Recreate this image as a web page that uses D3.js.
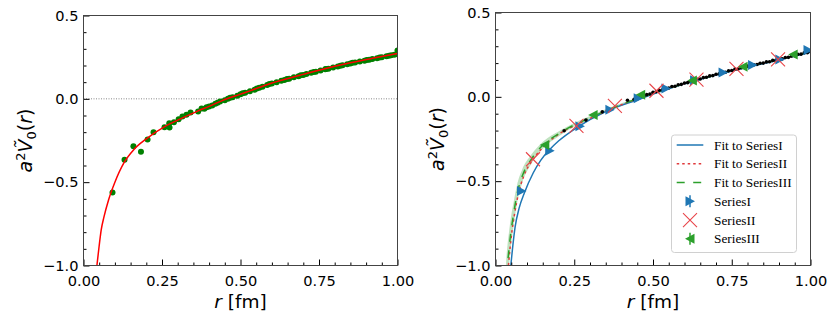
<!DOCTYPE html>
<html>
<head>
<meta charset="utf-8">
<script src="https://cdn.jsdelivr.net/npm/d3@7"></script>
<style>
  body { margin: 0; background: #fff; }
  svg { display: block; }
  text { font-family: "DejaVu Sans", sans-serif; }
</style>
</head>
<body>
<svg width="830" height="313"></svg>
<script>
// ---- data ----
var xTicks = [0, 0.25, 0.5, 0.75, 1.0];
var yTicks = [-1.0, -0.5, 0.0, 0.5];

// left panel: lattice points and their fit
var leftFitR = [0.0427, 0.05, 0.0564, 0.065, 0.08, 0.10, 0.13, 0.16, 0.20, 0.26, 0.30, 0.365, 0.40, 0.44, 0.50, 0.53, 0.60, 0.69, 0.75, 0.85, 0.92, 1.00];
var leftFitV = [-1.00, -0.88, -0.786, -0.71, -0.605, -0.50, -0.38, -0.305, -0.240, -0.165, -0.128, -0.072, -0.045, -0.012, 0.028, 0.048, 0.095, 0.142, 0.172, 0.216, 0.243, 0.272];

var leftDotsR = [0.0924, 0.1306, 0.159, 0.183, 0.204, 0.223, 0.258, 0.273, 0.274, 0.288, 0.303, 0.315, 0.328, 0.341, 0.365, 0.376,
  0.385, 0.392, 0.40, 0.41, 0.42, 0.427, 0.435, 0.45, 0.46, 0.467, 0.475, 0.49, 0.50, 0.507, 0.515, 0.53, 0.545, 0.552, 0.56, 0.57,
  0.585, 0.592, 0.60, 0.615, 0.63, 0.64, 0.648, 0.655, 0.67, 0.685, 0.692, 0.70, 0.71, 0.725, 0.733, 0.74, 0.755, 0.77, 0.772, 0.78,
  0.795, 0.81, 0.818, 0.825, 0.84, 0.85, 0.857, 0.865, 0.88, 0.895, 0.902, 0.91, 0.92, 0.935, 0.943, 0.95, 0.965, 0.973, 0.98, 0.99, 1.00, 1.00];
var leftDotsV = [-0.562, -0.366, -0.284, -0.318, -0.244, -0.200, -0.170, -0.146, -0.172, -0.140, -0.122, -0.106, -0.096, -0.082, -0.076, -0.058,
  -0.060, -0.050, -0.046, -0.040, -0.030, -0.024, -0.016, -0.008, 0.000, 0.006, 0.010, 0.019, 0.027, 0.033, 0.036, 0.046, 0.055, 0.062, 0.066, 0.072,
  0.083, 0.089, 0.092, 0.100, 0.108, 0.113, 0.119, 0.121, 0.129, 0.136, 0.142, 0.143, 0.149, 0.156, 0.161, 0.163, 0.170, 0.177, 0.179, 0.181,
  0.188, 0.194, 0.199, 0.201, 0.208, 0.212, 0.216, 0.218, 0.224, 0.229, 0.233, 0.235, 0.239, 0.244, 0.248, 0.250, 0.255, 0.259, 0.261, 0.264, 0.268, 0.290];

// right panel: three fits
var fitIR = [0.0486, 0.054, 0.0623, 0.075, 0.091, 0.12, 0.144, 0.17, 0.20, 0.26, 0.35, 0.456, 0.54, 0.64, 0.77, 0.90, 1.00];
var fitIV = [-1.00, -0.90, -0.771, -0.66, -0.573, -0.45, -0.375, -0.316, -0.262, -0.180, -0.087, -0.014, 0.042, 0.098, 0.162, 0.218, 0.264];

var fitIIR = [0.041, 0.046, 0.052, 0.06, 0.073, 0.09, 0.119, 0.15, 0.20, 0.255, 0.30, 0.38, 0.45, 0.51, 0.64, 0.77, 0.90, 1.00];
var fitIIV = [-1.00, -0.90, -0.80, -0.70, -0.573, -0.468, -0.372, -0.300, -0.222, -0.168, -0.128, -0.061, -0.012, 0.027, 0.100, 0.165, 0.220, 0.266];

var fitIIIR = [0.031, 0.034, 0.038, 0.043, 0.049, 0.057, 0.068, 0.085, 0.112, 0.154, 0.20, 0.233, 0.30, 0.38, 0.45, 0.51, 0.64, 0.77, 0.90, 1.00];
var fitIIIV = [-1.25, -1.12, -1.00, -0.90, -0.80, -0.70, -0.58, -0.47, -0.375, -0.280, -0.220, -0.183, -0.124, -0.060, -0.011, 0.027, 0.100, 0.165, 0.221, 0.267];
var bandHi = [-1.07, -0.97, -0.88, -0.80, -0.715, -0.63, -0.525, -0.43, -0.347, -0.260, -0.205, -0.171, -0.114, -0.052, -0.004, 0.033, 0.105, 0.170, 0.226, 0.272];
var bandLo = [-1.45, -1.27, -1.12, -1.00, -0.885, -0.77, -0.635, -0.51, -0.403, -0.300, -0.235, -0.195, -0.134, -0.068, -0.018, 0.021, 0.095, 0.160, 0.216, 0.262];

// right panel: data points
var blackR = [0.218, 0.287, 0.339, 0.419, 0.44, 0.46, 0.48, 0.50, 0.52, 0.54, 0.56, 0.58, 0.60, 0.62, 0.64, 0.66, 0.68, 0.70, 0.72,
  0.74, 0.76, 0.78, 0.80, 0.82, 0.84, 0.86, 0.88, 0.90, 0.92, 0.94, 0.96, 0.98, 1.00,
  0.45, 0.47, 0.49, 0.51, 0.53, 0.55, 0.57, 0.59, 0.61, 0.63, 0.65, 0.67, 0.69, 0.71, 0.73, 0.75, 0.77, 0.79, 0.81, 0.83, 0.85,
  0.87, 0.89, 0.91, 0.93, 0.95, 0.97, 0.99];
var blackV = [-0.201, -0.138, -0.089, -0.020, -0.015, -0.001, 0.013, 0.027, 0.039, 0.050, 0.061, 0.072, 0.082, 0.093, 0.104, 0.114, 0.124,
  0.134, 0.144, 0.154, 0.164, 0.173, 0.182, 0.190, 0.199, 0.207, 0.216, 0.224, 0.233, 0.242, 0.252, 0.261, 0.270,
  -0.011, 0.003, 0.017, 0.030, 0.041, 0.052, 0.063, 0.074, 0.084, 0.095, 0.106, 0.116, 0.126, 0.136, 0.146, 0.156, 0.165, 0.174,
  0.183, 0.192, 0.200, 0.208, 0.217, 0.225, 0.234, 0.244, 0.253, 0.262];

var seriesIR = [0.0825, 0.172, 0.268, 0.363, 0.453, 0.541, 0.632, 0.7225, 0.816, 0.9025, 0.992];
var seriesIV = [-0.559, -0.320, -0.174, -0.077, -0.008, 0.050, 0.099, 0.145, 0.188, 0.222, 0.277];
var seriesIIR = [0.119, 0.257, 0.379, 0.511, 0.638, 0.765, 0.897];
var seriesIIV = [-0.370, -0.172, -0.053, 0.036, 0.102, 0.166, 0.222];
var seriesIIIR = [0.1565, 0.31, 0.461, 0.625, 0.786, 0.945];
var seriesIIIV = [-0.286, -0.108, 0.012, 0.097, 0.178, 0.251];

var legendLabels = ["Fit to SeriesI", "Fit to SeriesII", "Fit to SeriesIII", "SeriesI", "SeriesII", "SeriesIII"];

// ---- drawing ----
var svg = d3.select("svg");
var cBlue = "#1f77b4", cRed = "#e03a3c", cGreen = "#2ca02c";

function pairs(rs, vs) {
    return rs.map(function (r, i) { return [r, vs[i]]; });
}

function makePanel(id, box) {
    var x = d3.scaleLinear().domain([0, 1]).range([box.left, box.right]);
    var y = d3.scaleLinear().domain([-1, 0.5]).range([box.bottom, box.top]);
    svg.append("clipPath").attr("id", id)
        .append("rect")
        .attr("x", box.left).attr("y", box.top)
        .attr("width", box.right - box.left).attr("height", box.bottom - box.top);
    var g = svg.append("g").attr("clip-path", "url(#" + id + ")");
    return {x: x, y: y, g: g, box: box};
}

function drawAxes(p) {
    var b = p.box;
    var xMinor = p.x.ticks(20).filter(function (d) { return Math.abs(d * 4 - Math.round(d * 4)) > 1e-6; });
    var yMinor = p.y.ticks(15).filter(function (d) { return Math.abs(d * 2 - Math.round(d * 2)) > 1e-6; });

    svg.append("g").attr("transform", "translate(0," + b.bottom + ")")
        .call(d3.axisBottom(p.x).tickValues(xMinor).tickSize(-3).tickSizeOuter(0).tickFormat(""))
        .select(".domain").remove();
    svg.append("g").attr("transform", "translate(" + b.left + ",0)")
        .call(d3.axisLeft(p.y).tickValues(yMinor).tickSize(-3).tickSizeOuter(0).tickFormat(""))
        .select(".domain").remove();

    var xa = svg.append("g").attr("transform", "translate(0," + b.bottom + ")")
        .call(d3.axisBottom(p.x).tickValues(xTicks).tickSize(-6).tickSizeOuter(0)
            .tickPadding(10.5).tickFormat(d3.format(".2f")));
    xa.select(".domain").remove();
    var ya = svg.append("g").attr("transform", "translate(" + b.left + ",0)")
        .call(d3.axisLeft(p.y).tickValues(yTicks).tickSize(-6).tickSizeOuter(0)
            .tickPadding(5).tickFormat(d3.format(".1f")));
    ya.select(".domain").remove();
    [xa, ya].forEach(function (a) {
        a.attr("font-family", null).attr("font-size", null);
        a.selectAll("text").style("font-size", "14.6px").attr("fill", "#000");
    });

    svg.append("rect")
        .attr("x", b.left).attr("y", b.top)
        .attr("width", b.right - b.left).attr("height", b.bottom - b.top)
        .attr("fill", "none").attr("stroke", "#444").attr("stroke-width", 1);

    // axis titles
    svg.append("text")
        .attr("x", (b.left + b.right) / 2).attr("y", 308)
        .attr("text-anchor", "middle").style("font-size", "18.5px")
        .html('<tspan font-style="italic">r</tspan> [fm]');

    var yt = svg.append("text")
        .attr("transform", "translate(" + (b.left - 52) + "," + ((b.top + b.bottom) / 2) + ") rotate(-90)")
        .attr("text-anchor", "middle").style("font-size", "19px");
    yt.append("tspan").attr("font-style", "italic").text("a");
    yt.append("tspan").attr("dy", -7).style("font-size", "13px").text("2");
    yt.append("tspan").attr("dy", 7).attr("font-style", "italic").text("\u1E7C");
    yt.append("tspan").attr("dy", 4).style("font-size", "13px").text("0");
    yt.append("tspan").attr("dy", -4).text("(");
    yt.append("tspan").attr("font-style", "italic").text("r");
    yt.append("tspan").text(")");
}

function drawLine(p, rs, vs, color, dash) {
    var line = d3.line()
        .x(function (d) { return p.x(d[0]); })
        .y(function (d) { return p.y(d[1]); })
        .curve(d3.curveMonotoneX);
    p.g.append("path")
        .datum(pairs(rs, vs))
        .attr("d", line)
        .attr("fill", "none")
        .attr("stroke", color)
        .attr("stroke-width", 1.5)
        .attr("stroke-dasharray", dash || null);
}

var triRight = "M-4.5,-5L5,0L-4.5,5Z";
var triLeft = "M4.5,-5L-5,0L4.5,5Z";

function drawTriangles(g, p, rs, vs, shape, color) {
    g.selectAll(null)
        .data(pairs(rs, vs))
        .enter().append("path")
        .attr("d", shape)
        .attr("transform", function (d) { return "translate(" + p.x(d[0]) + "," + p.y(d[1]) + ")"; })
        .attr("fill", color);
}

function crossPath(s) {
    return "M" + (-s) + "," + (-s) + "L" + s + "," + s + "M" + (-s) + "," + s + "L" + s + "," + (-s);
}

// left panel
var left = makePanel("clipL", {left: 83.5, right: 397.5, top: 15.5, bottom: 265.5});

left.g.append("line")
    .attr("x1", left.box.left).attr("x2", left.box.right)
    .attr("y1", left.y(0)).attr("y2", left.y(0))
    .attr("stroke", "#888").attr("stroke-width", 1)
    .attr("stroke-dasharray", "1,1.5");

left.g.selectAll(".dot")
    .data(pairs(leftDotsR, leftDotsV))
    .enter().append("circle")
    .attr("class", "dot")
    .attr("cx", function (d) { return left.x(d[0]); })
    .attr("cy", function (d) { return left.y(d[1]); })
    .attr("r", 3)
    .attr("fill", "#008000");

drawLine(left, leftFitR, leftFitV, "#ff0000");
drawAxes(left);

// right panel
var right = makePanel("clipR", {left: 495.5, right: 810.5, top: 12.5, bottom: 265.5});

var band = d3.area()
    .x(function (d) { return right.x(d.r); })
    .y0(function (d) { return right.y(d.lo); })
    .y1(function (d) { return right.y(d.hi); })
    .curve(d3.curveMonotoneX);
right.g.append("path")
    .datum(fitIIIR.map(function (r, i) { return {r: r, lo: bandLo[i], hi: bandHi[i]}; }))
    .attr("d", band)
    .attr("fill", cGreen)
    .attr("fill-opacity", 0.3);

drawLine(right, fitIR, fitIV, cBlue);
drawLine(right, fitIIR, fitIIV, cRed, "2.5,3");
drawLine(right, fitIIIR, fitIIIV, cGreen, "8,8.5");

right.g.selectAll(".bdot")
    .data(pairs(blackR, blackV))
    .enter().append("circle")
    .attr("class", "bdot")
    .attr("cx", function (d) { return right.x(d[0]); })
    .attr("cy", function (d) { return right.y(d[1]); })
    .attr("r", 1.8)
    .attr("fill", "#000");

drawTriangles(right.g, right, seriesIR, seriesIV, triRight, cBlue);

right.g.selectAll(".xm")
    .data(pairs(seriesIIR, seriesIIV))
    .enter().append("path")
    .attr("class", "xm")
    .attr("d", crossPath(7))
    .attr("transform", function (d) { return "translate(" + right.x(d[0]) + "," + right.y(d[1]) + ")"; })
    .attr("fill", "none")
    .attr("stroke", "#e8464a")
    .attr("stroke-width", 1.1);

drawTriangles(right.g, right, seriesIIIR, seriesIIIV, triLeft, cGreen);

drawAxes(right);

// legend
var lg = svg.append("g");
lg.append("rect")
    .attr("x", 671.5).attr("y", 135).attr("width", 125).attr("height", 117.5)
    .attr("rx", 3).attr("fill", "#fff").attr("fill-opacity", 0.8)
    .attr("stroke", "#d0d0d0").attr("stroke-width", 1);

var rowY = d3.scalePoint().domain(d3.range(legendLabels.length)).range([145, 238.8]);
var handleX0 = 676.7, handleX1 = 703.3, handleMid = 690;

var lineStyles = [[cBlue, null], [cRed, "2.5,3"], [cGreen, "8,8.5"]];
lineStyles.forEach(function (s, i) {
    lg.append("line")
        .attr("x1", handleX0).attr("x2", handleX1)
        .attr("y1", rowY(i)).attr("y2", rowY(i))
        .attr("stroke", s[0]).attr("stroke-width", 1.5)
        .attr("stroke-dasharray", s[1]);
});

[[3, triRight, cBlue], [5, triLeft, cGreen]].forEach(function (m) {
    lg.append("line")
        .attr("x1", handleMid).attr("x2", handleMid)
        .attr("y1", rowY(m[0]) - 6).attr("y2", rowY(m[0]) + 6)
        .attr("stroke", m[2]).attr("stroke-width", 1.5);
    lg.append("path")
        .attr("d", m[1])
        .attr("transform", "translate(" + handleMid + "," + rowY(m[0]) + ")")
        .attr("fill", m[2]);
});
lg.append("path")
    .attr("d", crossPath(7))
    .attr("transform", "translate(" + handleMid + "," + rowY(4) + ")")
    .attr("fill", "none").attr("stroke", "#e8464a").attr("stroke-width", 1.1);

lg.selectAll(".lt")
    .data(legendLabels)
    .enter().append("text")
    .attr("class", "lt")
    .attr("x", 714)
    .attr("y", function (d, i) { return rowY(i) + 4.5; })
    .style("font-family", "'Liberation Serif', 'Times New Roman', serif")
    .style("font-size", "13.3px")
    .attr("fill", "#000")
    .text(function (d) { return d; });
</script>
</body>
</html>
